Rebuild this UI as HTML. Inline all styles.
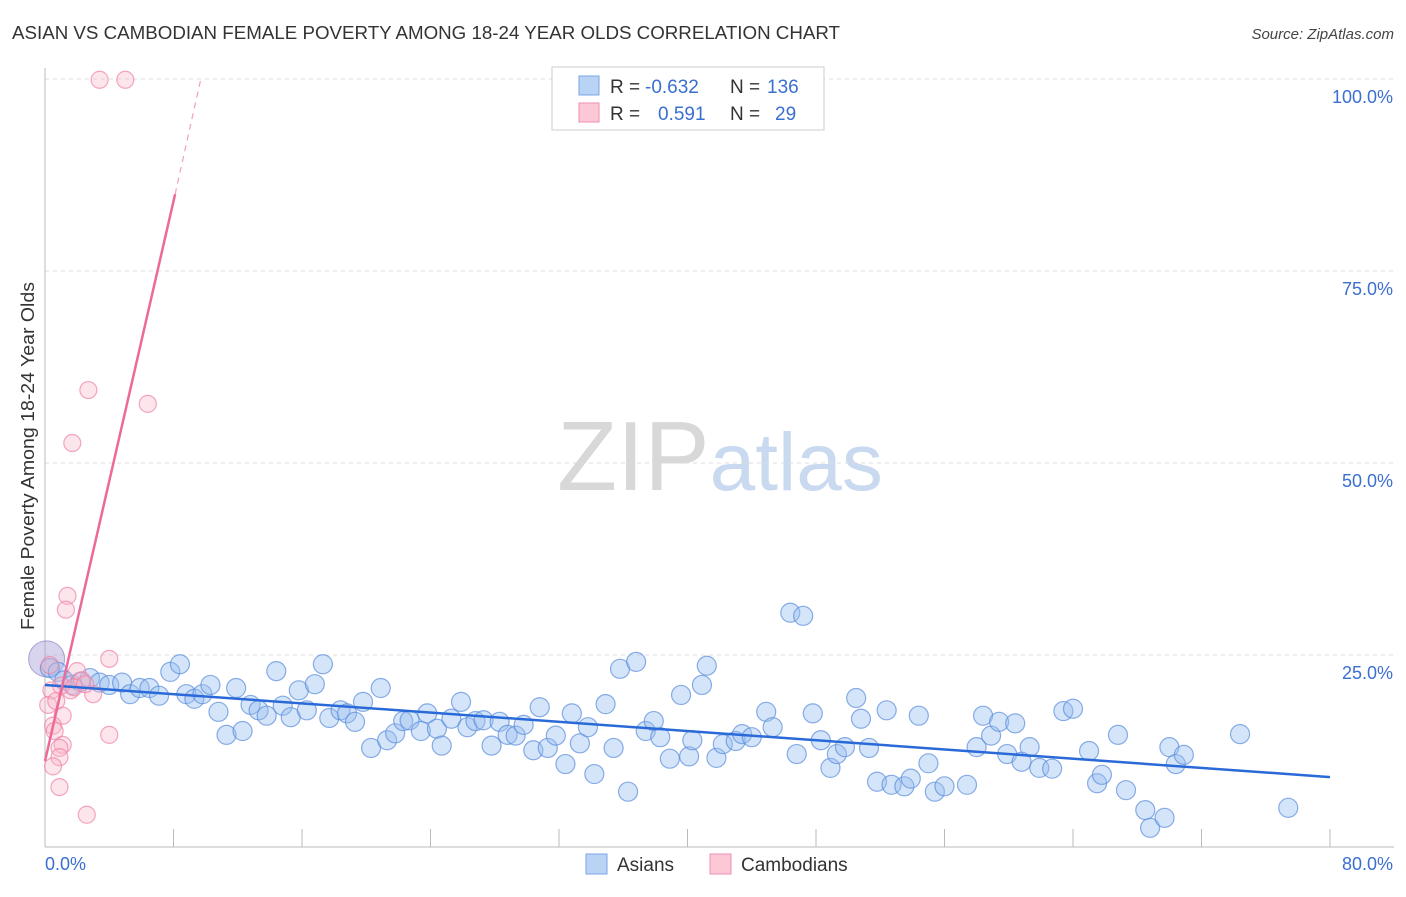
<!DOCTYPE html>
<html><head><meta charset="utf-8"><style>
body{margin:0;background:#fff;font-family:"Liberation Sans",sans-serif;}
svg text{font-family:"Liberation Sans",sans-serif;}
</style></head><body>
<svg id="chart" width="1406" height="892" viewBox="0 0 1406 892" xmlns="http://www.w3.org/2000/svg">
<text x="12" y="39" font-size="18" fill="#333" textLength="828" lengthAdjust="spacingAndGlyphs">ASIAN VS CAMBODIAN FEMALE POVERTY AMONG 18-24 YEAR OLDS CORRELATION CHART</text>
<text x="1394" y="39" font-size="15" fill="#444" text-anchor="end" font-style="italic">Source: ZipAtlas.com</text>
<text x="720" y="490" font-size="98" text-anchor="middle" fill="#ddd" font-family="Liberation Serif, serif"><tspan fill="#d8d8d8">ZIP</tspan><tspan fill="#c9d9ef" font-family="Liberation Sans, sans-serif" font-size="82">atlas</tspan></text>
<g id="grid"></g>
<g id="axes"></g>
<g id="marks"></g>
<text transform="translate(34,456) rotate(-90)" font-size="18" fill="#333" text-anchor="middle" textLength="348" lengthAdjust="spacingAndGlyphs">Female Poverty Among 18-24 Year Olds</text>
<g>
<rect x="552" y="67" width="272" height="63" fill="#fff" stroke="#ccc"/>
<rect x="579" y="76" width="20" height="19" fill="#b9d3f5" stroke="#7aa6e6"/>
<rect x="579" y="103" width="20" height="19" fill="#fcc8d6" stroke="#f08fae"/>
<text x="610" y="93" font-size="19" fill="#333">R =</text><text x="645" y="93" font-size="19" fill="#3a6fd0">-0.632</text>
<text x="730" y="93" font-size="19" fill="#333">N =</text><text x="767" y="93" font-size="19" fill="#3a6fd0">136</text>
<text x="610" y="120" font-size="19" fill="#333">R =</text><text x="658" y="120" font-size="19" fill="#3a6fd0">0.591</text>
<text x="730" y="120" font-size="19" fill="#333">N =</text><text x="775" y="120" font-size="19" fill="#3a6fd0">29</text>
</g>
<g>
<rect x="586" y="854" width="21" height="20" fill="#b9d3f5" stroke="#7aa6e6"/>
<text x="617" y="871" font-size="19" fill="#333">Asians</text>
<rect x="710" y="854" width="21" height="20" fill="#fcc8d6" stroke="#f08fae"/>
<text x="741" y="871" font-size="19" fill="#333">Cambodians</text>
</g>
</svg>
<script>
const yTicks=[25,50,75,100];
const yTickLabels=["25.0%","50.0%","75.0%","100.0%"];
const xTickValues=[0,8,16,24,32,40,48,56,64,72,80];
const asianX=[0.3,0.8,1.2,1.7,2.2,2.8,3.4,4.0,4.8,5.3,5.9,6.5,7.1,7.8,8.4,8.8,9.3,9.8,10.3,10.8,11.3,11.9,12.3,12.8,13.3,13.8,14.4,14.8,15.3,15.8,16.3,16.8,17.3,17.7,18.4,18.8,19.3,19.8,20.3,20.9,21.3,21.8,22.3,22.7,23.4,23.8,24.4,24.7,25.3,25.9,26.3,26.8,27.3,27.8,28.3,28.8,29.3,29.8,30.4,30.8,31.3,31.8,32.4,32.8,33.3,33.8,34.2,34.9,35.4,35.8,36.3,36.8,37.4,37.9,38.3,38.9,39.6,40.1,40.3,40.9,41.2,41.8,42.2,43.0,43.4,44.0,44.9,45.3,46.4,47.2,46.8,47.8,48.3,48.9,49.3,49.8,50.5,50.8,51.3,51.8,52.4,52.7,53.5,53.9,54.4,55.0,55.4,56.0,57.4,58.0,58.4,58.9,59.4,59.9,60.4,60.8,61.3,61.9,62.7,63.4,64.0,65.0,65.5,65.8,66.8,67.3,68.5,68.8,69.7,70.0,70.4,70.9,74.4,77.4];
const asianY=[23.3,22.8,21.7,21.1,21.5,22.0,21.4,21.1,21.4,19.9,20.7,20.7,19.7,22.8,23.8,19.9,19.3,19.9,21.1,17.6,14.6,20.7,15.1,18.5,17.8,17.1,22.9,18.4,16.9,20.4,17.8,21.2,23.8,16.8,17.8,17.4,16.3,18.9,12.9,20.7,13.9,14.8,16.4,16.5,15.1,17.4,15.4,13.2,16.7,18.9,15.6,16.4,16.5,13.2,16.3,14.6,14.5,15.9,12.6,18.2,12.9,14.5,10.8,17.4,13.5,15.6,9.5,18.6,12.9,23.2,7.2,24.1,15.1,16.4,14.3,11.5,19.8,11.8,13.9,21.1,23.6,11.6,13.4,13.8,14.7,14.3,17.6,15.6,30.5,30.1,12.1,17.4,13.9,10.3,12.1,13.0,19.4,16.7,12.9,8.5,17.8,8.1,7.9,8.9,17.1,10.9,7.2,7.9,8.1,13.0,17.1,14.5,16.3,12.1,16.1,11.1,13.0,10.3,10.2,17.7,18.0,12.5,8.3,9.4,14.6,7.4,4.8,2.5,3.8,13.0,10.8,12.0,14.7,5.1];
const cambX=[3.4,5.0,2.7,6.4,1.7,1.4,1.3,4.0,0.3,2.0,0.4,1.6,3.0,0.2,1.1,0.5,0.6,1.1,0.9,4.0,0.9,0.5,0.9,2.6,2.3,1.0,0.7,1.8,2.5];
const cambY=[99.9,99.9,59.5,57.7,52.6,32.7,30.9,24.5,23.7,22.9,20.4,20.4,19.9,18.5,17.1,15.8,15.1,13.3,12.9,14.6,11.7,10.5,7.8,4.2,21.7,21.0,19.0,20.8,21.2];
const asianTrend=[[0,21.1],[80,9.1]];
const cambTrendSolid=[[0,11.2],[8.1,85]];
const cambTrendDash=[[8.1,85],[9.7,100]];

const NS="http://www.w3.org/2000/svg";
const X0=45,X1=1330,Y0=847,Y100=79;
const sx=v=>X0+(v/80)*(X1-X0);
const sy=v=>Y0-(v/100)*(Y0-Y100);
function mk(tag,attrs,parent){const e=document.createElementNS(NS,tag);for(const k in attrs)e.setAttribute(k,attrs[k]);document.getElementById(parent).appendChild(e);return e;}
yTicks.forEach((t,i)=>{
  const l=mk('line',{x1:45,x2:1394,y1:sy(t),y2:sy(t),stroke:'#ddd','stroke-dasharray':'4,4'},'grid');
  
  
  const tx=mk('text',{x:1393,y:sy(t)+24,'font-size':18,fill:'#3a6fd0','text-anchor':'end'},'grid');
  tx.textContent=yTickLabels[i];
  
  
});
const ax=mk('line',{x1:45,x2:45,y1:68,y2:847,stroke:'#bbb'},'axes');


const bx=mk('line',{x1:45,x2:1394,y1:847,y2:847,stroke:'#bbb'},'axes');


xTickValues.forEach(v=>{
  const t=mk('line',{x1:sx(v),x2:sx(v),y1:829,y2:847,stroke:'#bbb'},'axes');
  
  
});
const xl=mk('text',{x:45,y:870,'font-size':18,fill:'#3a6fd0'},'axes');xl.textContent='0.0%';


const xr=mk('text',{x:1393,y:870,'font-size':18,fill:'#3a6fd0','text-anchor':'end'},'axes');xr.textContent='80.0%';



const big=mk('circle',{cx:sx(0.1),cy:sy(24.5),r:18,fill:'rgba(170,160,215,0.45)',stroke:'rgba(140,130,200,0.7)'},'marks');


asianX.forEach((v,i)=>{
  const c=mk('circle',{cx:sx(v),cy:sy(asianY[i]),r:9.5,fill:'rgba(150,190,240,0.4)',stroke:'rgba(90,140,220,0.7)','stroke-width':1.2},'marks');
  
  
});
cambX.forEach((v,i)=>{
  const c=mk('circle',{cx:sx(v),cy:sy(cambY[i]),r:8.5,fill:'rgba(250,180,200,0.35)',stroke:'rgba(240,130,165,0.7)','stroke-width':1.2},'marks');
  
  
});
const tl=mk('line',{x1:sx(asianTrend[0][0]),y1:sy(asianTrend[0][1]),x2:sx(asianTrend[1][0]),y2:sy(asianTrend[1][1]),stroke:'#2a6ad8','stroke-width':2.5},'marks');


const pl=mk('line',{x1:sx(cambTrendSolid[0][0]),y1:sy(cambTrendSolid[0][1]),x2:sx(cambTrendSolid[1][0]),y2:sy(cambTrendSolid[1][1]),stroke:'#ec6a98','stroke-width':2.5},'marks');


const pd=mk('line',{x1:sx(cambTrendDash[0][0]),y1:sy(cambTrendDash[0][1]),x2:sx(cambTrendDash[1][0]),y2:sy(cambTrendDash[1][1]),stroke:'#f0a0be','stroke-width':1.2,'stroke-dasharray':'6,5'},'marks');


</script>
</body></html>
